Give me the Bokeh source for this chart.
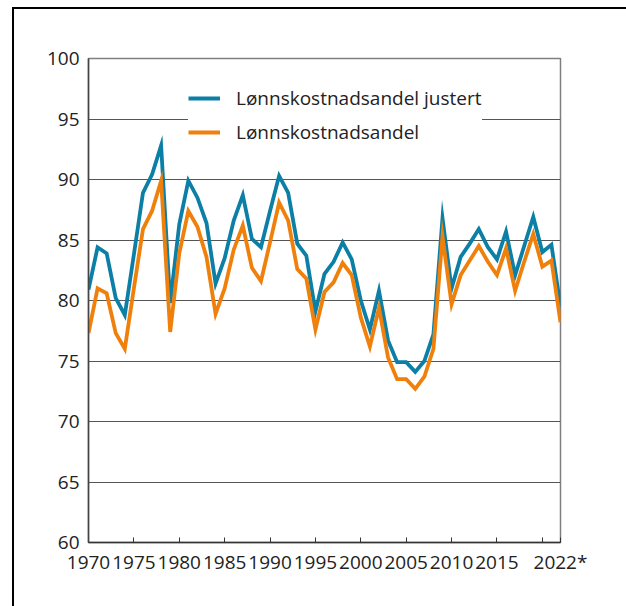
from bokeh.plotting import figure
from bokeh.models import FixedTicker, Legend, LegendItem, ColumnDataSource, InlineStyleSheet
from bokeh.embed import file_html
from bokeh.resources import INLINE

years = list(range(1970, 2023))
justert = [80.9, 84.4, 83.9, 80.2, 78.8, 83.8, 88.9, 90.4, 92.8, 79.8,
           86.3, 89.9, 88.5, 86.4, 81.4, 83.5, 86.6, 88.7, 85.1, 84.4,
           87.4, 90.3, 88.9, 84.7, 83.7, 79.1, 82.2, 83.2, 84.8, 83.4,
           80.0, 77.6, 80.8, 76.7, 74.9, 74.9, 74.1, 75.0, 77.2, 86.8,
           81.0, 83.6, 84.7, 85.9, 84.4, 83.4, 85.7, 82.1, 84.5, 86.9,
           84.0, 84.6, 79.5]
andel = [77.3, 81.0, 80.6, 77.3, 76.0, 81.0, 85.9, 87.4, 89.9, 77.4,
         83.9, 87.4, 86.1, 83.6, 78.9, 81.0, 84.2, 86.2, 82.7, 81.6,
         84.8, 88.1, 86.6, 82.6, 81.8, 77.6, 80.7, 81.5, 83.1, 82.1,
         78.6, 76.2, 79.4, 75.3, 73.5, 73.5, 72.7, 73.7, 76.0, 85.3,
         79.7, 82.1, 83.3, 84.5, 83.2, 82.1, 84.3, 80.8, 83.2, 85.5,
         82.8, 83.3, 78.2]
series_names = ["Lønnskostnadsandel justert", "Lønnskostnadsandel"]
x_ticks = [1970, 1975, 1980, 1985, 1990, 1995, 2000, 2005, 2010, 2015, 2020, 2022]
x_labels = {2020: "", 2022: "2022*"}
y_ticks = [60, 65, 70, 75, 80, 85, 90, 95, 100]

FONT = "Open Sans"
BLUE = "#0b7fa6"
ORANGE = "#f0800c"

src = ColumnDataSource(dict(year=years, justert=justert, andel=andel))

p = figure(width=626, height=606, output_backend="svg", toolbar_location=None,
           x_range=(1970, 2022), y_range=(60, 100),
           frame_width=472, frame_height=484,
           min_border_left=88, min_border_right=66, min_border_top=58, min_border_bottom=64)

p.background_fill_color = "white"
p.border_fill_color = "white"
p.outline_line_color = "#7f7f7f"
p.outline_line_width = 1.5

r1 = p.line("year", "justert", source=src, line_color=BLUE, line_width=3.8, line_join="miter")
r2 = p.line("year", "andel", source=src, line_color=ORANGE, line_width=3.8, line_join="miter")

p.xgrid.visible = False
p.ygrid.grid_line_color = "#555555"
p.ygrid.grid_line_width = 1.1
p.ygrid.ticker = FixedTicker(ticks=y_ticks)

p.xaxis.ticker = FixedTicker(ticks=x_ticks)
p.xaxis.major_label_overrides = x_labels
p.xaxis.major_tick_in = 5
p.xaxis.major_tick_out = 0
p.xaxis.minor_tick_line_color = None
p.xaxis.axis_line_color = "#333333"
p.xaxis.axis_line_width = 1.5
p.xaxis.major_tick_line_color = "#333333"
p.xaxis.major_label_standoff = 6

p.yaxis.ticker = FixedTicker(ticks=y_ticks)
p.yaxis.major_tick_in = 0
p.yaxis.major_tick_out = 0
p.yaxis.minor_tick_line_color = None
p.yaxis.axis_line_color = "#444444"
p.yaxis.axis_line_width = 1.5
p.yaxis.major_label_standoff = 9

for ax in (p.xaxis[0], p.yaxis[0]):
    ax.major_label_text_font = FONT
    ax.major_label_text_font_size = "19px"
    ax.major_label_text_color = "#222222"

legend = Legend(items=[LegendItem(label=series_names[0], renderers=[r1]),
                       LegendItem(label=series_names[1], renderers=[r2])],
                location=(100, 397))
legend.background_fill_color = "white"
legend.background_fill_alpha = 1.0
legend.border_line_color = None
legend.label_text_font = FONT
legend.label_text_font_size = "19px"
legend.label_text_color = "#222222"
legend.glyph_width = 32
legend.glyph_height = 22
legend.label_standoff = 16
legend.padding = 14
legend.spacing = 8
legend.margin = 0
p.add_layout(legend, "center")

p.stylesheets = [InlineStyleSheet(css="""
:host::after {
  content: "";
  position: absolute;
  left: 12px;
  top: 7px;
  right: 0px;
  bottom: 0px;
  border-left: 2.5px solid black;
  border-top: 2px solid black;
  pointer-events: none;
}
""")]

open("out.html", "w").write(file_html(p, INLINE))
